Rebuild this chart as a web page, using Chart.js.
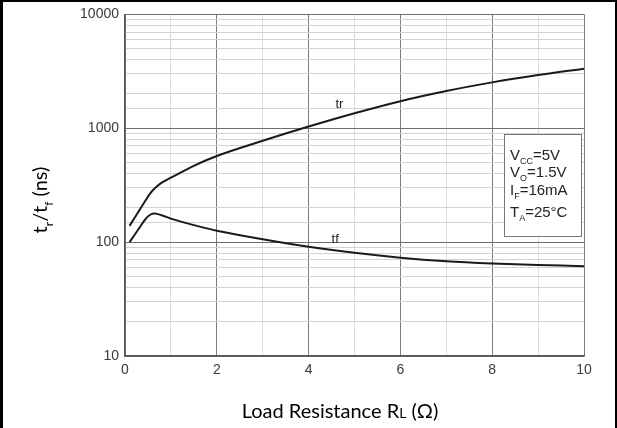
<!DOCTYPE html>
<html>
<head>
<meta charset="utf-8">
<script src="https://cdn.jsdelivr.net/npm/chart.js@4.4.1/dist/chart.umd.min.js"></script>
<style>
  html, body { margin: 0; padding: 0; background: #fff; }
  #wrap { width: 617px; height: 428px; }
</style>
</head>
<body>
<div id="wrap"><canvas id="chart" width="617" height="428"></canvas></div>
<script>
// Load resistance (x) and switching times in ns (y)
const resistance = [0.1, 0.3, 0.45, 0.55, 0.65, 0.8, 1.0, 1.5, 2, 3, 4, 5, 6, 7, 8, 9, 10];
const riseTime   = [139, 187, 233, 268, 297, 333, 368, 468, 571, 776, 1035, 1355, 1730, 2125, 2530, 2935, 3340];
const fallTime   = [100, 131, 160, 174, 178, 172, 161, 141, 126, 106, 91, 80.5, 73, 68, 65, 63, 61.5];

const xTicks = [0, 2, 4, 6, 8, 10];
const yTicks = [10, 100, 1000, 10000];
const conditions = [
  [['V', false], ['CC', true], ['=5V', false]],
  [['V', false], ['O', true], ['=1.5V', false]],
  [['I', false], ['F', true], ['=16mA', false]],
  [['T', false], ['A', true], ['=25°C', false]]
];

const tickFont = { family: "'Liberation Sans', Arial, sans-serif", size: 14 };

// draw text pieces, some of them as subscripts
function drawParts(ctx, parts, x, y, size, subSize, family) {
  let cx = x;
  parts.forEach(([txt, sub]) => {
    ctx.font = (sub ? subSize : size) + 'px ' + family;
    ctx.fillText(txt, cx, sub ? y + size * 0.28 : y);
    cx += ctx.measureText(txt).width;
  });
  return cx - x;
}
function partsWidth(ctx, parts, size, subSize, family) {
  let w = 0;
  parts.forEach(([txt, sub]) => {
    ctx.font = (sub ? subSize : size) + 'px ' + family;
    w += ctx.measureText(txt).width;
  });
  return w;
}

const decorations = {
  id: 'decorations',
  beforeDraw(chart) {
    const ctx = chart.ctx;
    ctx.save();
    ctx.fillStyle = '#fff';
    ctx.fillRect(0, 0, chart.width, chart.height);
    ctx.restore();
  },
  afterDraw(chart) {
    const ctx = chart.ctx;
    const x = chart.scales.x, y = chart.scales.y;
    ctx.save();

    // curve labels
    ctx.fillStyle = '#222';
    ctx.font = "13px 'Liberation Sans', Arial, sans-serif";
    ctx.textAlign = 'center';
    ctx.textBaseline = 'middle';
    ctx.fillText('tr', x.getPixelForValue(4.67), y.getPixelForValue(1630));
    ctx.fillText('tf', x.getPixelForValue(4.58), y.getPixelForValue(105));

    // conditions box
    ctx.fillStyle = '#fff';
    ctx.fillRect(504, 134, 78, 103);
    ctx.strokeStyle = '#777';
    ctx.lineWidth = 1;
    ctx.strokeRect(504.5, 134.5, 77, 102);
    ctx.fillStyle = '#222';
    ctx.textAlign = 'left';
    ctx.textBaseline = 'alphabetic';
    const baselines = [160, 177, 195, 217];
    conditions.forEach((parts, i) => {
      drawParts(ctx, parts, 510, baselines[i], 15, 9, "'Liberation Sans', Arial, sans-serif");
    });

    // axis titles
    const titleFam = "Lato, 'Open Sans', 'DejaVu Sans', sans-serif";
    ctx.fillStyle = '#000';
    const xTitle = [['Load Resistance R', false], ['L', 'small'], [' (Ω)', false]];
    let w = 0;
    xTitle.forEach(([t, s]) => { ctx.font = (s ? 14 : 20) + 'px ' + titleFam; w += ctx.measureText(t).width; });
    let cx = 340 - w / 2;
    xTitle.forEach(([t, s]) => {
      ctx.font = (s ? 14 : 20) + 'px ' + titleFam;
      ctx.fillText(t, cx, 418);
      cx += ctx.measureText(t).width;
    });

    const yTitle = [['t', false], ['r', true], ['/t', false], ['f', true], [' (ns)', false]];
    ctx.translate(47, 200);
    ctx.rotate(-Math.PI / 2);
    const yw = partsWidth(ctx, yTitle, 20, 12, titleFam);
    drawParts(ctx, yTitle, -yw / 2, 0, 20, 12, titleFam);
    ctx.restore();

    // black frame around the picture
    ctx.save();
    ctx.fillStyle = '#000';
    ctx.fillRect(0, 0, chart.width, 2);
    ctx.fillRect(0, 0, 3, chart.height);
    ctx.fillRect(chart.width - 2, 0, 2, chart.height);
    ctx.restore();
  }
};

const isDecade = v => Math.abs(Math.log10(v) - Math.round(Math.log10(v))) < 1e-9;

new Chart(document.getElementById('chart'), {
  type: 'line',
  data: {
    datasets: [
      {
        label: 'tr',
        data: resistance.map((r, i) => ({ x: r, y: riseTime[i] })),
        borderColor: '#1a1a1a',
        borderWidth: 2,
        pointRadius: 0,
        tension: 0.35
      },
      {
        label: 'tf',
        data: resistance.map((r, i) => ({ x: r, y: fallTime[i] })),
        borderColor: '#1a1a1a',
        borderWidth: 2,
        pointRadius: 0,
        tension: 0.35
      }
    ]
  },
  options: {
    responsive: false,
    animation: false,
    layout: { padding: { left: 0, top: 13, right: 33, bottom: 0 } },
    plugins: { legend: { display: false }, tooltip: { enabled: false } },
    scales: {
      x: {
        type: 'linear',
        min: 0,
        max: 10,
        afterFit: s => { s.height = 72; },
        ticks: {
          stepSize: 1,
          autoSkip: false,
          maxRotation: 0,
          padding: 6,
          color: '#3a3a3a',
          font: tickFont,
          callback: v => xTicks.includes(v) ? String(v) : ''
        },
        grid: {
          drawTicks: false,
          color: c => (c.tick && c.tick.value % 2 === 0) ? '#7a7a7a' : '#dcdcdc',
          lineWidth: 1
        },
        border: { color: '#555', width: 1.5 }
      },
      y: {
        type: 'logarithmic',
        min: 10,
        max: 10000,
        afterFit: s => { s.width = 125; },
        ticks: {
          autoSkip: false,
          padding: 6,
          color: '#3a3a3a',
          font: tickFont,
          callback: v => (isDecade(v) && yTicks.includes(Math.round(v))) ? String(Math.round(v)) : ''
        },
        grid: {
          drawTicks: false,
          color: c => (c.tick && isDecade(c.tick.value)) ? '#6f6f6f' : '#d2d2d2',
          lineWidth: 1
        },
        border: { color: '#555', width: 1.5 }
      }
    }
  },
  plugins: [decorations]
});
</script>
</body>
</html>
